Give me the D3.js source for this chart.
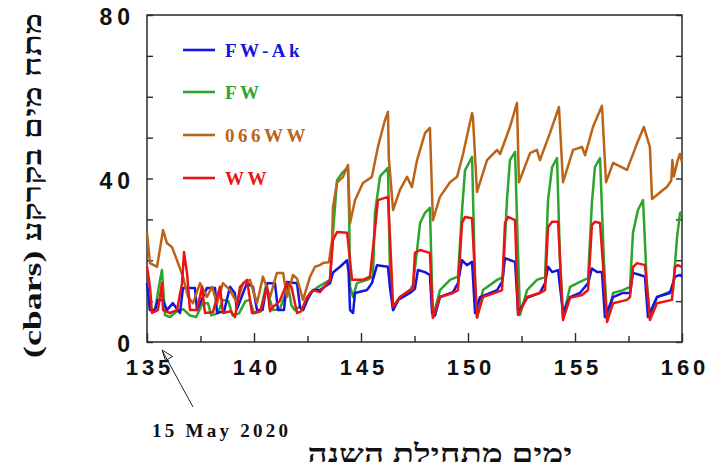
<!DOCTYPE html>
<html>
<head>
<meta charset="utf-8">
<script src="https://cdn.jsdelivr.net/npm/d3@7"></script>
<style>
  body { margin: 0; background: #fff; }
  svg { display: block; }
</style>
</head>
<body>
<svg id="chart" width="710" height="476"></svg>
<script>
// Soil water tension (cbars) by day of year, four irrigation treatments.
const seriesNames = ["FW-Ak", "FW", "066WW", "WW"];
const seriesColors = ["#1414e0", "#2ca52c", "#bb6418", "#ea1414"];

const xMajorTicks = [135, 140, 145, 150, 155, 160];
const xMinorTicks = [137.5, 142.5, 147.5, 152.5, 157.5];
const yTicks = [0, 10, 20, 30, 40, 50, 60, 70, 80];
const yTickLabels = [0, 40, 80];

// [day of year, tension]
const fwAk = [[135,14.4],[135.14,7.8],[135.37,7.8],[135.51,10.3],[135.75,10.3],[135.93,7.8],[136.21,9.5],[136.54,7.1],[136.68,13.2],[137.24,13.2],[137.34,7.8],[137.8,13.2],[138.18,13.2],[138.27,7.1],[138.6,7.5],[138.88,13.5],[139.1,12],[139.2,8],[139.67,14.4],[139.95,13.5],[140.14,7.8],[140.4,7.8],[140.61,14.4],[140.98,14.4],[141.12,7.8],[141.4,7.8],[141.54,14.7],[142.01,14.4],[142.15,8.6],[142.3,7.8],[142.48,10.3],[142.76,12.7],[143.08,12.7],[143.55,14.4],[143.69,17],[144.02,18.4],[144.35,20],[144.42,17],[144.49,7.8],[144.63,7.1],[144.72,12],[145.28,12.7],[145.51,14.4],[145.75,18.8],[146.26,18.4],[146.36,13],[146.5,7.8],[146.73,10.3],[147.29,12],[147.52,13],[147.66,17.6],[147.99,17.1],[148.22,16.4],[148.32,7.1],[148.46,6.5],[148.69,11],[149.3,12.2],[149.53,14.4],[149.72,20],[149.95,18.8],[150.19,19.6],[150.33,7.1],[150.56,11],[151.36,12.7],[151.59,14.7],[151.73,20.5],[152.2,19.6],[152.34,7.1],[152.76,10.8],[153.36,12],[153.6,14.4],[153.74,18.4],[153.93,17.1],[154.21,17.6],[154.44,7.1],[154.77,11],[155.23,12],[155.61,14.4],[155.79,18],[156.03,17.1],[156.26,17.1],[156.4,6.1],[156.78,11],[157.24,12],[157.57,12],[157.71,16.9],[158.04,16.4],[158.27,16],[158.41,6.1],[158.83,11],[159.44,12],[159.67,16],[159.91,16.4],[160,16]];

const fw = [[135,13],[135.14,7.8],[135.37,7.8],[135.61,15.2],[135.7,17.6],[135.84,6.6],[136.07,6.1],[136.4,7.5],[136.7,8],[137,6.5],[137.3,6.1],[137.6,9.5],[137.85,9.5],[138,6.5],[138.3,7],[138.55,10.3],[138.8,10],[139,6.5],[139.3,7],[139.6,10],[139.8,10.3],[140,7],[140.3,7.5],[140.55,13.5],[140.7,11],[140.9,7.8],[141.2,8],[141.6,13.5],[141.75,9],[141.9,7.8],[142.1,8.5],[142.3,8],[142.48,10],[142.62,12],[143,13.5],[143.55,15.2],[143.69,26.7],[143.88,39.6],[144.11,41.3],[144.39,42.8],[144.45,30],[144.49,13.5],[144.63,11],[144.81,14.4],[145.28,15.2],[145.56,16],[145.65,31.6],[145.89,40.5],[146.26,42.6],[146.36,15.2],[146.5,7.8],[146.82,11],[147.29,12.7],[147.43,14],[147.62,22.5],[147.76,29.1],[147.99,31.6],[148.22,32.8],[148.36,6],[148.69,12.7],[149.16,15.2],[149.53,16],[149.72,32],[149.86,42],[150.19,45.3],[150.33,15],[150.42,6],[150.7,12.7],[151.36,15.2],[151.64,15.9],[151.82,34.7],[151.96,44.5],[152.2,46.5],[152.29,30],[152.43,6.6],[152.76,12.7],[153.22,15.2],[153.6,15.9],[153.74,34.7],[153.93,42.8],[154.16,45],[154.3,20],[154.44,6],[154.77,13.5],[155.23,14.7],[155.61,15.6],[155.79,34],[155.93,42.8],[156.17,45],[156.35,20],[156.5,5.4],[156.78,12],[157.24,12.7],[157.57,13.5],[157.71,26.7],[157.94,32.3],[158.18,34.7],[158.35,15],[158.5,6],[158.83,11],[159.3,12],[159.58,12.7],[159.77,25.7],[159.91,31.6],[160,31.8]];

const ww066 = [[135,26.7],[135.14,19.3],[135.47,18.4],[135.75,27.4],[135.93,24.2],[136.17,23.2],[136.4,20],[136.68,16],[136.92,11],[137.15,9.5],[137.48,14.4],[137.8,11],[138.04,13.5],[138.27,9.5],[138.55,14.4],[138.88,12.7],[139.21,9.5],[139.49,14.4],[139.81,15.2],[140.14,9.5],[140.42,16],[140.75,11],[141.07,16.9],[141.36,16.9],[141.54,11],[141.82,16.4],[142.01,15.5],[142.29,10.3],[142.62,16],[142.85,18.4],[143.08,18.8],[143.22,19.3],[143.5,19.5],[143.65,25],[143.69,33],[143.88,39],[144.16,40.4],[144.39,43.3],[144.49,29.1],[144.72,34.7],[145.09,38.9],[145.51,40.4],[145.79,47.7],[146.12,54.3],[146.26,56.3],[146.3,45],[146.5,32.3],[146.82,37.2],[147.15,40.4],[147.38,37.9],[147.62,44.5],[147.99,51.1],[148.22,52.4],[148.36,29.8],[148.69,35.5],[149.16,39.1],[149.49,40.4],[149.77,46],[150.19,56],[150.23,55],[150.42,36.7],[150.89,44.5],[151.36,47],[151.5,46],[151.96,52.6],[152.29,58.5],[152.38,39.1],[152.9,46.2],[153.22,47],[153.36,44.5],[153.83,51.1],[154.25,57.5],[154.44,39.1],[154.91,47],[155.33,47.7],[155.47,45.7],[155.84,52.6],[156.26,57.8],[156.45,39.1],[156.78,43.8],[157.43,42.1],[157.9,48.6],[158.22,52.6],[158.5,47.7],[158.6,35],[159.3,38],[159.5,39.5],[159.55,44.5],[159.62,40.5],[159.8,44.5],[159.9,46],[160,44]];

const ww = [[135,18.4],[135.14,13.5],[135.23,7.1],[135.51,7.8],[135.7,14.4],[135.75,7.8],[136.07,7.1],[136.4,7.8],[136.64,14.4],[136.73,22],[136.87,16.9],[137.01,7.8],[137.34,7.8],[137.57,13.5],[137.71,7.1],[138.08,7.3],[138.41,13.5],[138.55,7.1],[138.9,7.5],[139.11,6.1],[139.35,13.5],[139.67,15.2],[139.91,7.1],[140.3,7.5],[140.61,13.5],[140.75,7.5],[140.89,8.6],[141.2,10],[141.54,14.4],[141.75,13.5],[142.01,7.1],[142.2,7.5],[142.48,11],[142.76,12.7],[143.08,12.2],[143.55,15.2],[143.69,25],[143.88,26.9],[144.35,26.7],[144.45,22],[144.58,15.2],[145.09,15.2],[145.42,16],[145.65,27.4],[145.79,34.7],[146.26,35.5],[146.36,25],[146.5,8.6],[146.82,11],[147.29,12.7],[147.43,13],[147.52,21.8],[147.76,22.5],[148.22,21.8],[148.36,5.9],[148.69,11],[149.3,12],[149.53,12.7],[149.72,29.1],[149.86,30.6],[150.19,30.3],[150.42,6],[150.7,11],[151.36,12.2],[151.59,12.7],[151.73,29.1],[151.87,30.6],[152.2,29.8],[152.34,6.6],[152.76,11],[153.36,12],[153.6,12.7],[153.74,28.1],[153.93,29.4],[154.21,29.4],[154.44,5.4],[154.77,10.8],[155.33,11.5],[155.61,12.7],[155.79,28.6],[155.93,29.4],[156.17,29.1],[156.5,4.9],[156.78,9.5],[157.43,10.3],[157.57,11],[157.71,18.3],[157.9,19.3],[158.27,18.8],[158.5,5.4],[158.83,9.5],[159.53,10.3],[159.67,18.3],[159.81,18.8],[160,18.3]];

const seriesData = [fwAk, fw, ww066, ww];
const drawOrder = [1, 0, 2, 3];

const svg = d3.select("#chart");
const plotLeft = 147, plotRight = 682, plotTop = 15, plotBottom = 342;

const x = d3.scaleLinear().domain([135, 160]).range([plotLeft, plotRight]);
const y = d3.scaleLinear().domain([0, 80]).range([plotBottom, plotTop]);

const axisColor = "#2a2a2a";
const serif = "'Liberation Serif', 'Times New Roman', serif";

// frame
svg.append("rect")
  .attr("x", plotLeft).attr("y", plotTop)
  .attr("width", plotRight - plotLeft).attr("height", plotBottom - plotTop)
  .attr("fill", "none").attr("stroke", axisColor).attr("stroke-width", 1.5);

// inward ticks
function styleAxis(g) {
  g.select(".domain").remove();
  g.selectAll(".tick line").attr("stroke", axisColor).attr("stroke-width", 1.4);
  g.selectAll(".tick text").remove();
}
svg.append("g").attr("transform", `translate(0,${plotBottom})`)
  .call(d3.axisBottom(x).tickValues(xMajorTicks).tickSize(-9)).call(styleAxis);
svg.append("g").attr("transform", `translate(0,${plotBottom})`)
  .call(d3.axisBottom(x).tickValues(xMinorTicks).tickSize(-6)).call(styleAxis);
svg.append("g").attr("transform", `translate(${plotLeft},0)`)
  .call(d3.axisLeft(y).tickValues(yTicks).tickSize(-6)).call(styleAxis);
svg.append("g").attr("transform", `translate(${plotRight},0)`)
  .call(d3.axisRight(y).tickValues(yTicks).tickSize(-6)).call(styleAxis);

// tick labels
const tickFont = "'Liberation Sans', Arial, sans-serif";
svg.append("g").selectAll("text").data(xMajorTicks).join("text")
  .attr("x", d => x(d) + 3).attr("y", 375)
  .attr("text-anchor", "middle")
  .attr("font-family", tickFont).attr("font-weight", "bold")
  .attr("font-size", 22).attr("letter-spacing", 4)
  .attr("fill", "#111")
  .text(d => d);

svg.append("g").selectAll("text").data(yTickLabels).join("text")
  .attr("x", 135).attr("y", d => y(d) + 10)
  .attr("text-anchor", "end")
  .attr("font-family", tickFont).attr("font-weight", "bold")
  .attr("font-size", 23).attr("letter-spacing", 5)
  .attr("fill", "#111")
  .text(d => d);

// series lines
const line = d3.line().x(d => x(d[0])).y(d => y(d[1]));
svg.append("g").selectAll("path").data(drawOrder).join("path")
  .attr("d", i => line(seriesData[i]))
  .attr("fill", "none")
  .attr("stroke", i => seriesColors[i])
  .attr("stroke-width", 2.5)
  .attr("stroke-linejoin", "round");

// legend
const legendY = [50, 92, 135, 178];
const legend = svg.append("g").selectAll("g").data(seriesNames).join("g")
  .attr("transform", (d, i) => `translate(0,${legendY[i]})`);
legend.append("line")
  .attr("x1", 183).attr("x2", 215).attr("y1", 0).attr("y2", 0)
  .attr("stroke", (d, i) => seriesColors[i]).attr("stroke-width", 2.6);
legend.append("text")
  .attr("x", 225).attr("y", 7)
  .attr("font-family", serif)
  .attr("font-weight", "bold").attr("font-size", 19).attr("letter-spacing", 3.5)
  .attr("fill", (d, i) => seriesColors[i])
  .text(d => d);

// date annotation with arrow
svg.append("line")
  .attr("x1", 193).attr("y1", 407).attr("x2", 163).attr("y2", 352)
  .attr("stroke", "#222").attr("stroke-width", 1);
svg.append("path")
  .attr("d", "M162,350 L172.5,356.5 L165.5,360.5 Z")
  .attr("fill", "none").attr("stroke", "#222").attr("stroke-width", 1);
svg.append("text")
  .attr("x", 152).attr("y", 437)
  .attr("font-family", serif)
  .attr("font-weight", "bold").attr("font-size", 19)
  .attr("textLength", 136).attr("lengthAdjust", "spacing")
  .attr("fill", "#111")
  .text("15 May 2020");

// axis titles
svg.append("text")
  .attr("x", 440).attr("y", 462)
  .attr("text-anchor", "middle")
  .attr("font-family", serif)
  .attr("font-weight", "bold").attr("font-size", 25)
  .attr("textLength", 265).attr("lengthAdjust", "spacingAndGlyphs")
  .attr("fill", "#111")
  .text("ימים מתחילת השנה");

svg.append("text")
  .attr("transform", "translate(41,185.5) rotate(-90)")
  .attr("text-anchor", "middle")
  .attr("font-family", serif)
  .attr("font-weight", "bold").attr("font-size", 26)
  .attr("textLength", 345).attr("lengthAdjust", "spacingAndGlyphs")
  .attr("fill", "#111")
  .text("(cbars) מתח מים בקרקע");
</script>
</body>
</html>
